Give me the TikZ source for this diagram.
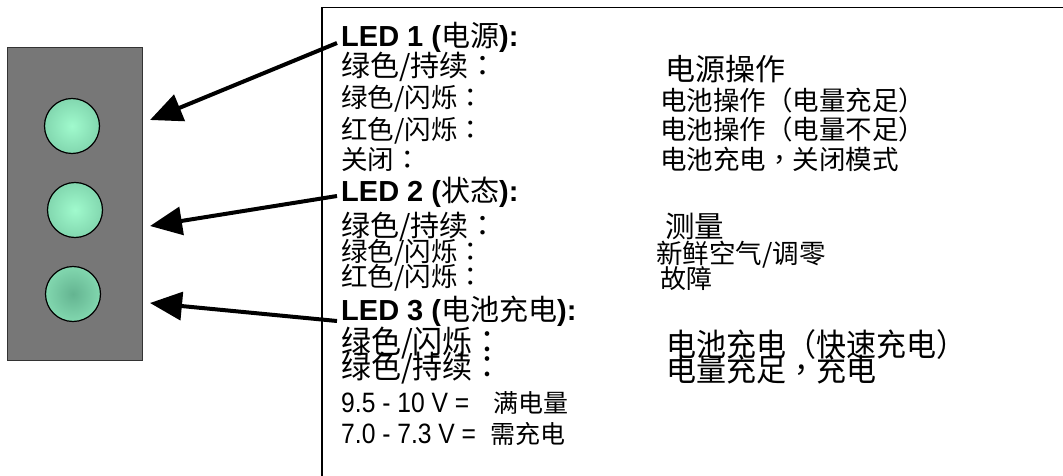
\documentclass[tikz,border=0pt]{standalone}
\usepackage{fontspec}
\usepackage{graphicx}
\setmainfont{Liberation Sans}
\newfontfamily\cjk{Noto Sans CJK SC}
\newfontfamily\cjktc{Noto Sans CJK TC}
\usetikzlibrary{arrows.meta}
\definecolor{panelgray}{HTML}{777777}
\definecolor{ledlight}{RGB}{160,250,205}
\definecolor{leddark}{RGB}{100,180,145}
\pgfdeclareradialshading{ledout}{\pgfpoint{0bp}{0bp}}{color(0bp)=(ledlight); color(50bp)=(leddark)}
\pgfdeclareradialshading{ledin}{\pgfpoint{0bp}{0bp}}{color(0bp)=(leddark); color(50bp)=(ledlight)}
\newcommand{\fs}[1]{\fontsize{#1}{#1}\selectfont}
\newcommand{\C}[1]{{\cjk\mdseries #1}}
\newcommand{\cc}{{\cjktc ：}}
\newcommand{\cm}{{\cjktc ，}}
\newcommand{\tallcjk}[1]{\scalebox{1}[1.05]{\cjk\fs{30}#1}}
\begin{document}
\begin{tikzpicture}[x=1pt,y=-1pt,
  txt/.style={inner sep=0pt, anchor=base west},
  led/.style={circle, draw=black, line width=1.2pt, minimum size=55pt, inner sep=0pt},
  arr/.style={line width=4pt, -{Triangle[length=32pt,width=28pt]}}]
\useasboundingbox (0,0) rectangle (1063,476);
\clip (0,0) rectangle (1063,476);
\fill[white] (0,0) rectangle (1063,476);
% text frame (open to the right and bottom)
\draw[line width=1.5pt] (322,7.5) rectangle (1100,520);
% LED panel
\node (panel) [draw=black!80, line width=1pt, fill=panelgray, minimum width=135pt, minimum height=313pt, inner sep=0pt, anchor=north west] at (7,47) {};
\node (led1) [led, shading=ledout] at (72,126) {};
\node (led2) [led, shading=ledout] at (75,210) {};
\node (led3) [led, shading=ledin] at (73,294) {};
% arrows
\coordinate (s1) at (337,43);  \coordinate (t1) at (150,120);
\coordinate (s2) at (337,196); \coordinate (t2) at (150,226);
\coordinate (s3) at (337,321); \coordinate (t3) at (150,303);
\draw[arr] (s1) -- (t1);
\draw[arr] (s2) -- (t2);
\draw[arr] (s3) -- (t3);
% LED 1
\node[txt] (h1) at (341,47) {\fs{29}\bfseries LED 1 (\C{电源}):};
\node[txt] (a1) at (341,77) {\cjk\fs{29}绿色/持续\cc};
\node[txt] (a2) at (341,108) {\cjk\fs{26.5}绿色/闪烁\cc};
\node[txt] (a3) at (341,140) {\cjk\fs{26.5}红色/闪烁\cc};
\node[txt] (a4) at (341,170) {\cjk\fs{26.5}关闭\cc};
\node[txt] (r1) at (665,81) {\cjk\fs{30}电源操作};
\node[txt] (r2) at (660,111) {\cjk\fs{26.5}电池操作（电量充足）};
\node[txt] (r3) at (660,140) {\cjk\fs{26.5}电池操作（电量不足）};
\node[txt] (r4) at (660,169) {\cjk\fs{26.5}电池充电\cm 关闭模式};
% LED 2
\node[txt] (h2) at (341,201) {\fs{29}\bfseries LED 2 (\C{状态}):};
\node[txt] (b1) at (341,236) {\cjk\fs{29}绿色/持续\cc};
\node[txt] (b2) at (341,261) {\cjk\fs{26.5}绿色/闪烁\cc};
\node[txt] (b3) at (341,286) {\cjk\fs{26.5}红色/闪烁\cc};
\node[txt] (q1) at (665,237) {\cjk\fs{29.5}测量};
\node[txt] (q2) at (656,263) {\cjk\fs{26.5}新鲜空气/调零};
\node[txt] (q3) at (660,288) {\cjk\fs{26}故障};
% LED 3
\node[txt] (h3) at (341,320) {\fs{29}\bfseries LED 3 (\C{电池充电}):};
\node[txt] (c1) at (341,353) {\tallcjk{绿色/闪烁\cc}};
\node[txt] (c2) at (341,378) {\tallcjk{绿色/持续\cc}};
\node[txt] (p1) at (666,356) {\tallcjk{电池充电（快速充电）}};
\node[txt] (p2) at (666,381) {\tallcjk{电量充足\cm 充电}};
\node[txt] (v1) at (341,412) {\scalebox{0.88}[1]{\fs{28}9.5 - 10 V =}\hspace{24pt}\cjk\fs{25}满电量};
\node[txt] (v2) at (341,443) {\scalebox{0.88}[1]{\fs{28}7.0 - 7.3 V =}\hspace{14pt}\cjk\fs{25}需充电};
\end{tikzpicture}
\end{document}
